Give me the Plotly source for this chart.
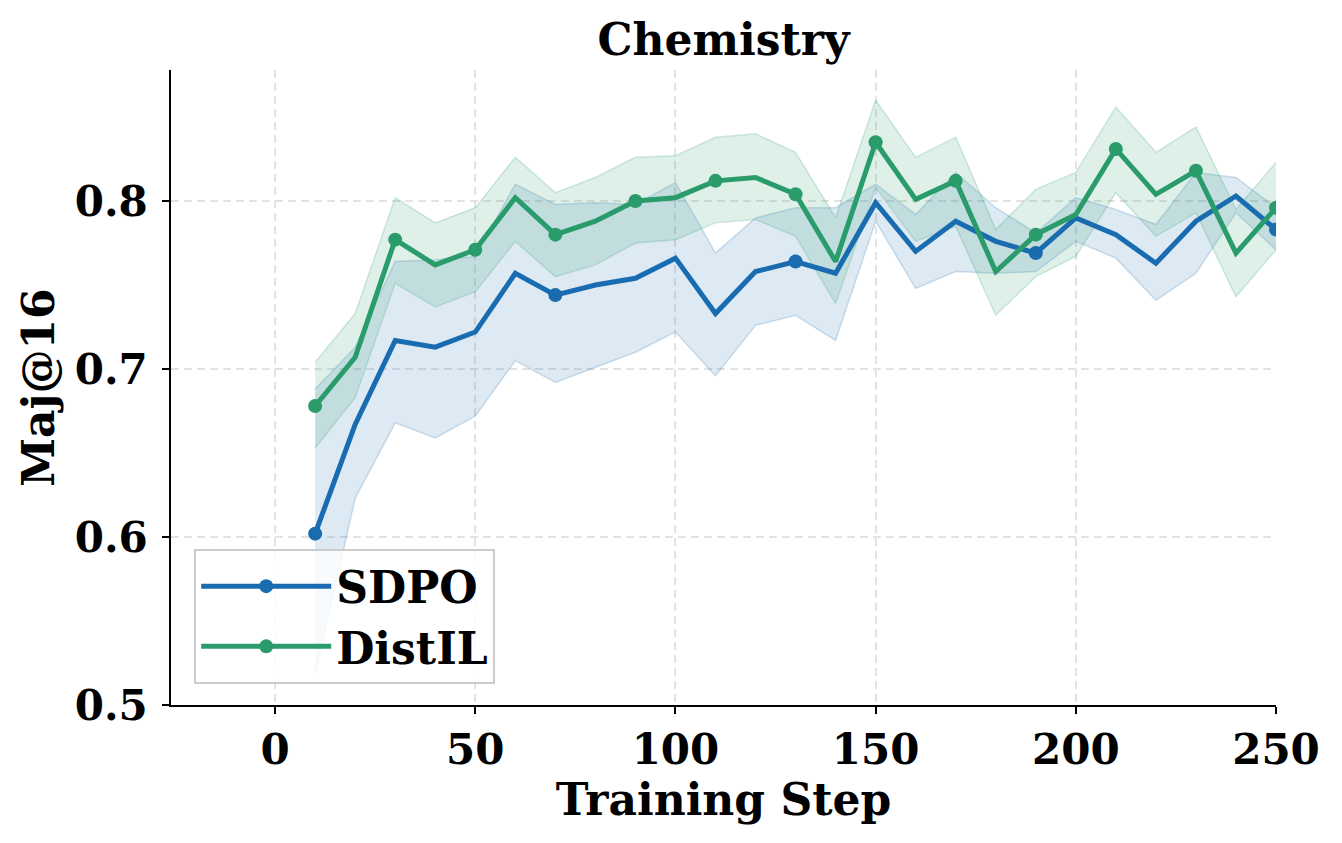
import plotly.graph_objects as go

steps = [10, 20, 30, 40, 50, 60, 70, 80, 90, 100, 110, 120, 130, 140, 150,
         160, 170, 180, 190, 200, 210, 220, 230, 240, 250]

sdpo_mean = [0.602, 0.667, 0.717, 0.713, 0.722, 0.757, 0.744, 0.750, 0.754, 0.766,
             0.733, 0.758, 0.764, 0.757, 0.799, 0.770, 0.788, 0.776, 0.769, 0.790,
             0.780, 0.763, 0.788, 0.803, 0.783]
sdpo_upper = [0.688, 0.713, 0.764, 0.765, 0.767, 0.810, 0.798, 0.799, 0.798, 0.811,
              0.769, 0.790, 0.796, 0.796, 0.810, 0.792, 0.817, 0.796, 0.781, 0.802,
              0.795, 0.786, 0.817, 0.814, 0.796]
sdpo_lower = [0.518, 0.623, 0.668, 0.659, 0.672, 0.705, 0.692, 0.701, 0.710, 0.722,
              0.696, 0.726, 0.732, 0.717, 0.788, 0.748, 0.758, 0.757, 0.758, 0.776,
              0.766, 0.741, 0.757, 0.793, 0.771]

distil_mean = [0.678, 0.707, 0.777, 0.762, 0.771, 0.802, 0.780, 0.788, 0.800, 0.802,
               0.812, 0.814, 0.804, 0.764, 0.835, 0.801, 0.812, 0.758, 0.780, 0.792,
               0.831, 0.804, 0.818, 0.769, 0.796]
distil_upper = [0.704, 0.733, 0.802, 0.787, 0.796, 0.826, 0.805, 0.814, 0.826, 0.827,
                0.838, 0.840, 0.829, 0.790, 0.860, 0.826, 0.838, 0.783, 0.807, 0.817,
                0.856, 0.829, 0.844, 0.795, 0.823]
distil_lower = [0.653, 0.683, 0.751, 0.737, 0.746, 0.776, 0.755, 0.762, 0.775, 0.777,
                0.787, 0.789, 0.779, 0.739, 0.808, 0.776, 0.785, 0.732, 0.755, 0.767,
                0.805, 0.779, 0.793, 0.743, 0.771]

x_ticks = [0, 50, 100, 150, 200, 250]
y_ticks = [0.5, 0.6, 0.7, 0.8]
y_tick_text = ["0.5", "0.6", "0.7", "0.8"]

series = [
    ("SDPO", sdpo_mean, sdpo_upper, sdpo_lower, "#1a6cb0", "26,108,176", 6),
    ("DistIL", distil_mean, distil_upper, distil_lower, "#2a9b6a", "42,155,106", 2),
]

FONT = "DejaVu Serif"
fig = go.Figure()

# bands
for name, m, up, lo, col, rgb, every in series:
    fig.add_trace(go.Scatter(x=steps, y=up, mode="lines",
                             line=dict(color=f"rgba({rgb},0.2)", width=1.5),
                             showlegend=False, hoverinfo="skip"))
    fig.add_trace(go.Scatter(x=steps, y=lo, mode="lines", fill="tonexty",
                             fillcolor=f"rgba({rgb},0.15)",
                             line=dict(color=f"rgba({rgb},0.2)", width=1.5),
                             showlegend=False, hoverinfo="skip"))

# lines + markers
for name, m, up, lo, col, rgb, every in series:
    fig.add_trace(go.Scatter(x=steps, y=m, mode="lines",
                             line=dict(color=col, width=5),
                             showlegend=False))
    fig.add_trace(go.Scatter(x=steps[::every], y=m[::every], mode="markers",
                             marker=dict(color=col, size=14),
                             showlegend=False))
    fig.add_trace(go.Scatter(x=[None], y=[None], mode="lines+markers", name=name,
                             line=dict(color=col, width=5),
                             marker=dict(color=col, size=14)))

fig.update_layout(
    width=1342, height=843,
    margin=dict(l=171, r=66, t=70, b=138),
    paper_bgcolor="white", plot_bgcolor="white",
    font=dict(family=FONT, color="black", size=42, weight="bold"),
    title=dict(text="<b>Chemistry</b>", x=0.5, xref="paper", xanchor="center",
               y=1 - 40 / 843, yanchor="middle",
               font=dict(family=FONT, size=44, color="black")),
    legend=dict(x=0.021, y=0.033, xanchor="left", yanchor="bottom",
                bgcolor="rgba(255,255,255,0.8)", bordercolor="#cccccc", borderwidth=2,
                font=dict(family=FONT, size=44, color="black", weight="bold"),
                itemwidth=130, traceorder="normal"),
    showlegend=True,
)

fig.update_xaxes(range=[-26, 250], tickvals=x_ticks, ticktext=[str(v) for v in x_ticks],
                 showline=True, linecolor="black", linewidth=1.5, mirror=False,
                 ticks="outside", ticklen=7, tickwidth=1.5, tickcolor="black",
                 showgrid=True, gridcolor="#e3e3e3", griddash="8px,5px", gridwidth=1.5,
                 zeroline=False,
                 tickfont=dict(family=FONT, size=42, color="black", weight="bold"),
                 title=dict(text="<b>Training Step</b>", standoff=8,
                            font=dict(family=FONT, size=44, color="black")))
fig.update_yaxes(range=[0.5, 0.878], tickvals=y_ticks, ticktext=y_tick_text,
                 showline=True, linecolor="black", linewidth=1.5, mirror=False,
                 ticks="outside", ticklen=7, tickwidth=1.5, tickcolor="black",
                 ticklabelstandoff=6,
                 showgrid=True, gridcolor="#e3e3e3", griddash="8px,5px", gridwidth=1.5,
                 zeroline=False,
                 tickfont=dict(family=FONT, size=42, color="black", weight="bold"),
                 title=dict(text="<b>Maj@16</b>", standoff=6,
                            font=dict(family=FONT, size=44, color="black")))

fig.write_html("out.html")
